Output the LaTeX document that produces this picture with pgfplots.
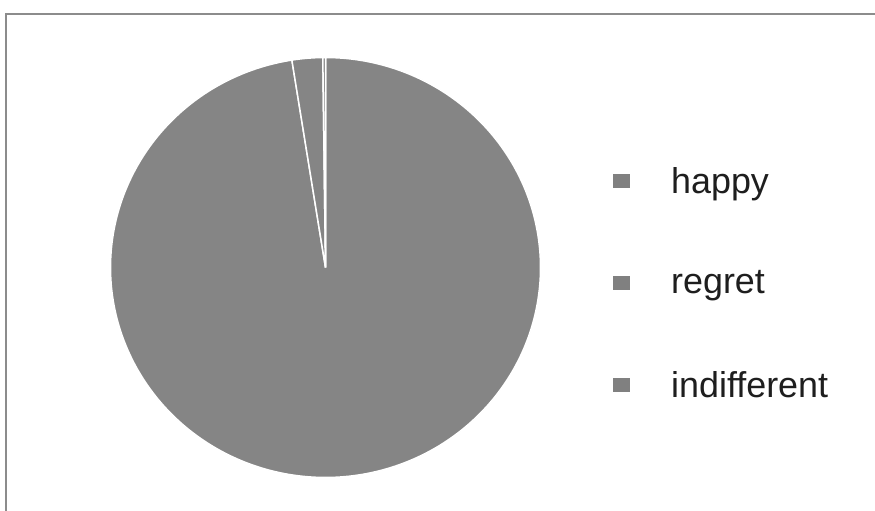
\documentclass[border=0pt]{standalone}
\usepackage{pgfplots}
\pgfplotsset{compat=1.18}
\usepackage{fontspec}
\setmainfont{Liberation Sans}
\definecolor{piegray}{HTML}{858585}
\definecolor{leggray}{HTML}{808080}
\definecolor{framegray}{HTML}{8C8C8C}
\definecolor{txt}{HTML}{1E1E1E}
% values (percent)
\def\vHappy{97.5}
\def\vRegret{2.3}
\def\vIndiff{0.2}
\pgfmathsetmacro\aA{3.6*\vHappy}
\pgfmathsetmacro\aB{\aA+3.6*\vRegret}
\pgfmathsetmacro\aC{\aB+3.6*\vIndiff}
\def\cx{325.5}
\def\cy{243.5}
\def\rx{215}
\def\ry{210}
\begin{document}
\begin{tikzpicture}
\begin{axis}[
  x=1bp, y=1bp, scale only axis,
  xmin=0, xmax=875, ymin=0, ymax=511,
  hide axis,
  legend style={at={(axis cs:613,344)}, anchor=north west, draw=none, fill=none,
    inner sep=0pt, row sep=76bp, column sep=0pt,
    font=\fontsize{36}{40}\selectfont, text=txt,
    nodes={inner sep=0pt}},
  legend cell align=left,
  legend image code/.code={\fill[leggray, draw=none] (0bp,-7bp) rectangle (17bp,7bp);
    \pgfpathmoveto{\pgfpointorigin}\pgfpathlineto{\pgfpoint{58bp}{0bp}}\pgfusepath{discard}},
]
\draw[framegray, line width=2bp] (axis cs:6,-10) -- (axis cs:6,497) -- (axis cs:890,497);
\addplot[fill=piegray, draw=white, line width=1.5bp, domain=0:\aA, samples=300, variable=\t]
  ({\cx+\rx*sin(\t)}, {\cy+\ry*cos(\t)}) -- (axis cs:\cx,\cy) -- cycle;
\addlegendentry{happy}
\addplot[fill=piegray, draw=white, line width=1.5bp, domain=\aA:\aB, samples=10, variable=\t]
  ({\cx+\rx*sin(\t)}, {\cy+\ry*cos(\t)}) -- (axis cs:\cx,\cy) -- cycle;
\addlegendentry{regret}
\addplot[fill=piegray, draw=white, line width=1.5bp, domain=\aB:\aC, samples=4, variable=\t]
  ({\cx+\rx*sin(\t)}, {\cy+\ry*cos(\t)}) -- (axis cs:\cx,\cy) -- cycle;
\addlegendentry{indifferent}
\end{axis}
\pgfresetboundingbox
\path (current axis.south west) rectangle (current axis.north east);
\end{tikzpicture}
\end{document}
